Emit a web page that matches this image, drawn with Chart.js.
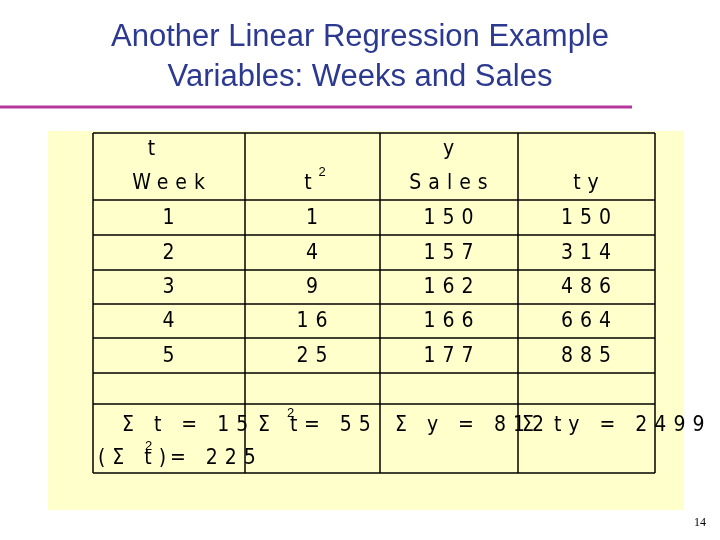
<!DOCTYPE html>
<html><head><meta charset="utf-8">
<script src="https://cdn.jsdelivr.net/npm/chart.js"></script>
<style>html,body{margin:0;padding:0;background:#fff}</style>
</head><body>
<canvas id="c" width="720" height="540" style="width:720px;height:540px"></canvas>
<script>
const titleLines = ['Another Linear Regression Example', 'Variables: Weeks and Sales'];
const weeks = [1, 2, 3, 4, 5];
const tSquared = [1, 4, 9, 16, 25];
const sales = [150, 157, 162, 166, 177];
const ty = [150, 314, 486, 664, 885];
const colEdges = [93, 245, 380, 518, 655];
const rowEdges = [133, 200, 235, 270, 304, 338, 373, 404, 473];
const pageNumber = '14';

const tablePlugin = {
  id: 'table',
  afterDraw(chart) {
    const ctx = chart.ctx, X = chart.scales.x, Y = chart.scales.y;
    const px = v => X.getPixelForValue(v), py = v => Y.getPixelForValue(v);
    ctx.save();
    // title
    ctx.fillStyle = '#2B3990';
    ctx.font = '31px Arial, "Liberation Sans"';
    ctx.textAlign = 'center'; ctx.textBaseline = 'middle';
    titleLines.forEach((t, i) => ctx.fillText(t, px(360), py(37 + i * 40)));
    // rule
    ctx.strokeStyle = '#B5379E'; ctx.lineWidth = 3;
    ctx.beginPath(); ctx.moveTo(px(0), py(107)); ctx.lineTo(px(632), py(107)); ctx.stroke();
    // yellow box
    ctx.fillStyle = '#FFFFCC';
    ctx.fillRect(px(48), py(131), px(684) - px(48), py(510) - py(131));
    // grid
    ctx.strokeStyle = '#000'; ctx.lineWidth = 1.5;
    rowEdges.forEach(r => { ctx.beginPath(); ctx.moveTo(px(colEdges[0]), py(r)); ctx.lineTo(px(colEdges[4]), py(r)); ctx.stroke(); });
    colEdges.forEach(c => { ctx.beginPath(); ctx.moveTo(px(c), py(rowEdges[0])); ctx.lineTo(px(c), py(rowEdges[8])); ctx.stroke(); });
    // text
    ctx.fillStyle = '#000';
    ctx.font = '21px "Liberation Sans Narrow", "DejaVu Sans Condensed", sans-serif';
    ctx.letterSpacing = '7px';
    const txt = (s, x, y, align) => { ctx.textAlign = align || 'center'; ctx.fillText(s, px(x), py(y)); };
    const sup = (x, y) => { ctx.save(); ctx.font = '13px "Liberation Sans Narrow", sans-serif'; ctx.textAlign = 'left'; ctx.fillText('2', px(x), py(y)); ctx.restore(); };
    const mids = colEdges.slice(0, 4).map((c, i) => (c + colEdges[i + 1]) / 2 + 3);
    txt('t', mids[0] - 17, 150); txt('Week', mids[0], 184);
    txt('t', mids[1] - 4, 184); sup(mids[1] + 3, 172);
    txt('y', mids[2], 150); txt('Sales', mids[2], 184);
    txt('ty', mids[3], 184);
    [weeks, tSquared, sales, ty].forEach((col, ci) => col.forEach((v, ri) => {
      txt(String(v), mids[ci], (rowEdges[ri + 1] + rowEdges[ri + 2]) / 2 + 1);
    }));
    const sumT = weeks.reduce((a, b) => a + b, 0);
    const sumT2 = tSquared.reduce((a, b) => a + b, 0);
    const sumY = sales.reduce((a, b) => a + b, 0);
    const sumTY = ty.reduce((a, b) => a + b, 0);
    txt('Σ t = ' + sumT, 122, 426, 'left');
    txt('(Σ t)', 98, 459, 'left'); sup(145, 446); txt('= ' + sumT * sumT, 170, 459, 'left');
    txt('Σ t', 258, 426, 'left'); sup(287, 413); txt('= ' + sumT2, 304, 426, 'left');
    txt('Σ y = ' + sumY, 395, 426, 'left');
    txt('Σ ty = ' + sumTY, 522, 426, 'left');
    ctx.letterSpacing = '0px';
    ctx.font = '12px "Liberation Serif", serif';
    txt(pageNumber, 706, 523, 'right');
    ctx.restore();
  }
};

new Chart(document.getElementById('c'), {
  type: 'scatter',
  data: { datasets: [{ data: [] }] },
  options: {
    responsive: false, animation: false, devicePixelRatio: 1,
    layout: { padding: 0 },
    plugins: { legend: { display: false }, tooltip: { enabled: false } },
    scales: {
      x: { type: 'linear', min: 0, max: 720, display: false },
      y: { type: 'linear', min: 0, max: 540, reverse: true, display: false }
    }
  },
  plugins: [tablePlugin]
});
</script>
</body></html>
